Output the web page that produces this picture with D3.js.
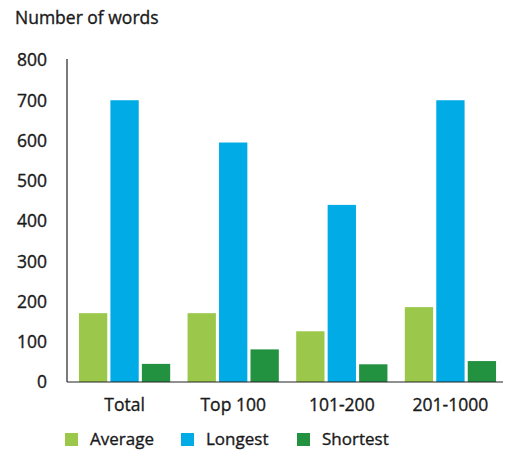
<!DOCTYPE html>
<meta charset="utf-8">
<style>
    body {
        margin: 0;
        background: #fff;
        font-family: "Open Sans", "Noto Sans", sans-serif;
    }
    text {
        fill: #1a1a1a;
        stroke: #1a1a1a;
        stroke-width: 0.35;
    }
</style>
<body>
    <svg width="509" height="450"></svg>

    <script src="https://d3js.org/d3.v7.min.js"></script>
    <script>
        const categories = ["Total", "Top 100", "101-200", "201-1000"];
        const seriesNames = ["Average", "Longest", "Shortest"];
        const averageValues = [171, 171, 126, 186];
        const longestValues = [700, 595, 440, 700];
        const shortestValues = [45, 81, 44, 52];
        const yTicks = [0, 100, 200, 300, 400, 500, 600, 700, 800];

        const colors = {
            "Average": "#9bc84b",
            "Longest": "#00abe6",
            "Shortest": "#229140"
        };

        const rows = categories.map((c, i) => ({
            category: c,
            Average: averageValues[i],
            Longest: longestValues[i],
            Shortest: shortestValues[i]
        }));

        const svg = d3.select("svg");
        const axisLeft = 67, axisRight = 503, baseY = 382, topY = 59;

        const x = d3.scaleBand()
            .domain(categories)
            .range([axisLeft, 508])
            .paddingInner(0.16)
            .paddingOuter(0.11);

        const xInner = d3.scaleBand()
            .domain(seriesNames)
            .range([0, x.bandwidth()])
            .paddingInner(0.1);

        const y = d3.scaleLinear()
            .domain([0, 800])
            .range([baseY, topY + 1]);

        // titre de l'axe
        svg.append("text")
            .attr("x", 15)
            .attr("y", 24)
            .attr("font-size", 17.5)
            .text("Number of words");

        // graduations
        svg.append("g")
            .selectAll("text")
            .data(yTicks)
            .join("text")
            .attr("x", 47)
            .attr("y", d => y(d))
            .attr("dy", "0.36em")
            .attr("text-anchor", "end")
            .attr("font-size", 17.5)
            .text(d => d);

        // barres
        svg.append("g")
            .selectAll("g")
            .data(rows)
            .join("g")
            .attr("transform", d => `translate(${x(d.category)},0)`)
            .selectAll("rect")
            .data(d => seriesNames.map(s => ({ key: s, value: d[s] })))
            .join("rect")
            .attr("x", d => xInner(d.key))
            .attr("width", xInner.bandwidth())
            .attr("y", d => y(d.value))
            .attr("height", d => baseY - y(d.value))
            .attr("fill", d => colors[d.key]);

        // axes
        svg.append("line")
            .attr("x1", axisLeft).attr("x2", axisLeft)
            .attr("y1", topY).attr("y2", baseY)
            .attr("stroke", "#222").attr("stroke-width", 1.2);
        svg.append("line")
            .attr("x1", axisLeft).attr("x2", axisRight)
            .attr("y1", baseY).attr("y2", baseY)
            .attr("stroke", "#222").attr("stroke-width", 1.2);

        // labels catégories
        svg.append("g")
            .selectAll("text")
            .data(categories)
            .join("text")
            .attr("x", d => x(d) + x.bandwidth() / 2)
            .attr("y", 405)
            .attr("dy", "0.36em")
            .attr("text-anchor", "middle")
            .attr("font-size", 17.5)
            .text(d => d);

        // légende
        const legendX = [65, 181, 297];
        const legend = svg.append("g")
            .selectAll("g")
            .data(seriesNames)
            .join("g")
            .attr("transform", (d, i) => `translate(${legendX[i]},433)`);
        legend.append("rect")
            .attr("width", 13)
            .attr("height", 13)
            .attr("fill", d => colors[d]);
        legend.append("text")
            .attr("x", 25)
            .attr("y", 6)
            .attr("dy", "0.36em")
            .attr("font-size", 17)
            .text(d => d);
    </script>
</body>
